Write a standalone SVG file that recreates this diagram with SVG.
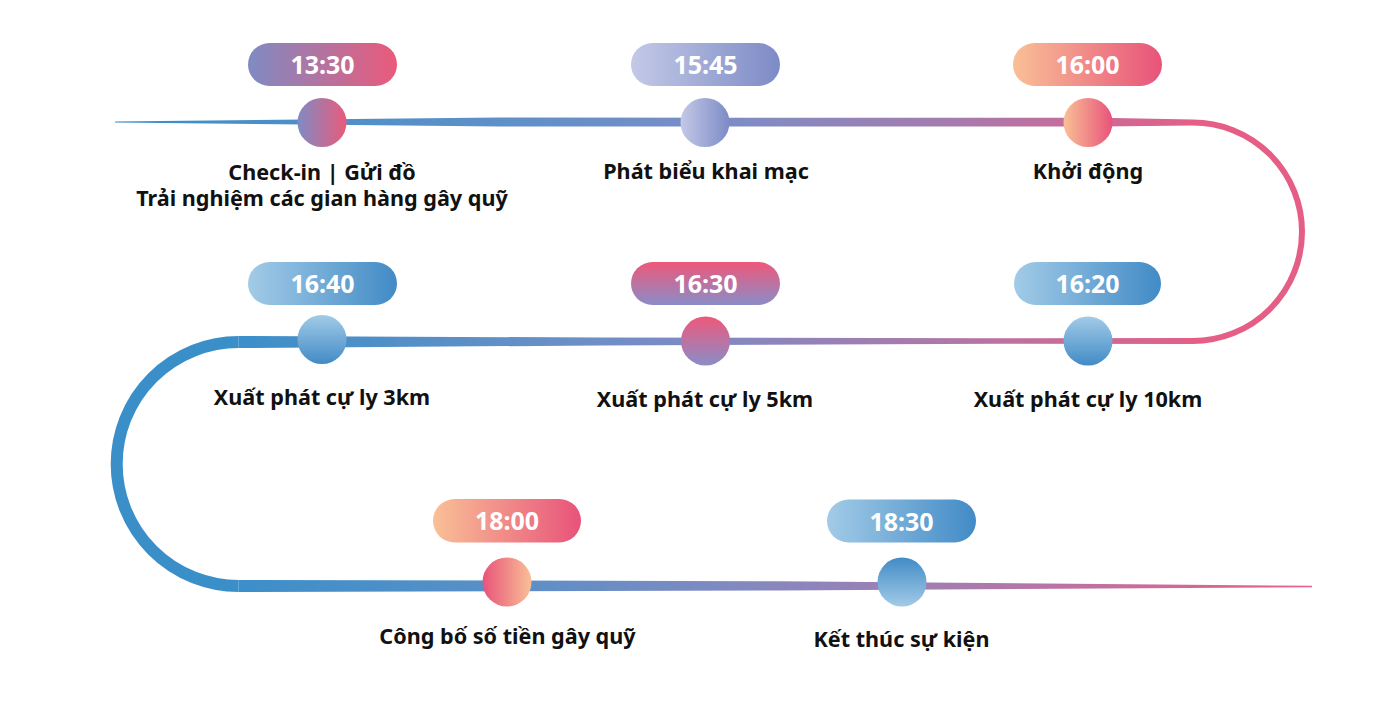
<svg xmlns="http://www.w3.org/2000/svg" width="1397" height="704" viewBox="0 0 1397 704">
<style>
.pt{font-family:"Noto Sans","Open Sans","DejaVu Sans",sans-serif;font-weight:700;font-size:25px;fill:#ffffff;text-anchor:middle}
.lb{font-family:"Noto Sans","Open Sans","DejaVu Sans",sans-serif;font-weight:700;font-size:21.6px;fill:#111111;text-anchor:middle}
</style>
<defs>
<linearGradient id="gPurplePink" x1="0" y1="0" x2="1" y2="0"><stop offset="0" stop-color="#7f8bc4"/><stop offset="1" stop-color="#ea5a7a"/></linearGradient>
<linearGradient id="gLav" x1="0" y1="0" x2="1" y2="0"><stop offset="0" stop-color="#c3c9e6"/><stop offset="1" stop-color="#7d8bc6"/></linearGradient>
<linearGradient id="gPeach" x1="0" y1="0" x2="1" y2="0"><stop offset="0" stop-color="#f9c096"/><stop offset="1" stop-color="#e8537a"/></linearGradient>
<linearGradient id="gPeachRev" x1="0" y1="0" x2="1" y2="0"><stop offset="0" stop-color="#e8537a"/><stop offset="1" stop-color="#f9c096"/></linearGradient>
<linearGradient id="gBlueH" x1="0" y1="0" x2="1" y2="0"><stop offset="0" stop-color="#a2cbe7"/><stop offset="1" stop-color="#428bc6"/></linearGradient>
<linearGradient id="gBlueV" x1="0" y1="0" x2="0" y2="1"><stop offset="0" stop-color="#a2cbe7"/><stop offset="1" stop-color="#428bc6"/></linearGradient>
<linearGradient id="gBlueVRev" x1="0" y1="0" x2="0" y2="1"><stop offset="0" stop-color="#428bc6"/><stop offset="1" stop-color="#a2cbe7"/></linearGradient>
<linearGradient id="gPinkV" x1="0" y1="0" x2="0" y2="1"><stop offset="0" stop-color="#ee587a"/><stop offset="1" stop-color="#8a8dc8"/></linearGradient>
<linearGradient id="gTop" gradientUnits="userSpaceOnUse" x1="115" y1="0" x2="1192" y2="0"><stop offset="0" stop-color="#3a8fcb"/><stop offset="0.4" stop-color="#6390c7"/><stop offset="0.58" stop-color="#7f8cc4"/><stop offset="0.78" stop-color="#a67bad"/><stop offset="1" stop-color="#e35f88"/></linearGradient>
<linearGradient id="gMid" gradientUnits="userSpaceOnUse" x1="1192" y1="0" x2="238" y2="0"><stop offset="0" stop-color="#e35f88"/><stop offset="0.3" stop-color="#a67bad"/><stop offset="0.5" stop-color="#8189c2"/><stop offset="0.65" stop-color="#6b8fc7"/><stop offset="1" stop-color="#3d8fc9"/></linearGradient>
<linearGradient id="gBot" gradientUnits="userSpaceOnUse" x1="238" y1="0" x2="1312" y2="0"><stop offset="0" stop-color="#3d8fc9"/><stop offset="0.25" stop-color="#5a8fc7"/><stop offset="0.45" stop-color="#7f8ac2"/><stop offset="0.65" stop-color="#a37db0"/><stop offset="1" stop-color="#ea5e88"/></linearGradient>
</defs>
<g id="connectors">
<path d="M115,121.4 L500,117.6 L1100,117.8 L1193,119.5 L1193,125.5 L1100,126.6 L500,126.6 L115,122.4 Z" fill="url(#gTop)"/>
<path d="M1192.75,122.5 A109.25,109.25 0 0 1 1192.75,341" fill="none" stroke="#e55e86" stroke-width="6"/>
<path d="M1193,338 L1000,338.2 L600,337.5 L238.7,336 L238.7,348 L600,345.5 L1000,343.8 L1193,344 Z" fill="url(#gMid)"/>
<path d="M238.7,342 A122,122 0 0 0 238.7,586" fill="none" stroke="#3b8fc9" stroke-width="12"/>
<path d="M238.7,580 L780,581.2 L1312,585.8 L1312,587.2 L780,590.5 L238.7,592 Z" fill="url(#gBot)"/>
</g>
<g id="n1330">
<rect x="248" y="43" width="149" height="43" rx="21.5" fill="url(#gPurplePink)"/>
<text class="pt" x="322.5" y="74">13:30</text>
<circle cx="322" cy="122.5" r="24.5" fill="url(#gPurplePink)"/>
<text class="lb" x="322" y="180">Check-in | Gửi đồ<tspan x="322" dy="26">Trải nghiệm các gian hàng gây quỹ</tspan></text>
</g>
<g id="n1545">
<rect x="631" y="43" width="149" height="43" rx="21.5" fill="url(#gLav)"/>
<text class="pt" x="705.5" y="74">15:45</text>
<circle cx="705" cy="122.5" r="24.5" fill="url(#gLav)"/>
<text class="lb" x="706" y="179">Phát biểu khai mạc</text>
</g>
<g id="n1600">
<rect x="1013" y="43" width="149" height="43" rx="21.5" fill="url(#gPeach)"/>
<text class="pt" x="1087.5" y="74">16:00</text>
<circle cx="1088" cy="122.5" r="24.5" fill="url(#gPeach)"/>
<text class="lb" x="1088" y="179">Khởi động</text>
</g>
<g id="n1620">
<rect x="1014" y="262" width="147" height="43" rx="21.5" fill="url(#gBlueH)"/>
<text class="pt" x="1087.5" y="292.5">16:20</text>
<circle cx="1088" cy="341" r="24.5" fill="url(#gBlueV)"/>
<text class="lb" x="1088" y="407">Xuất phát cự ly 10km</text>
</g>
<g id="n1630">
<rect x="631" y="262" width="149" height="43" rx="21.5" fill="url(#gPinkV)"/>
<text class="pt" x="705.5" y="292.5">16:30</text>
<circle cx="705.5" cy="341" r="24.5" fill="url(#gPinkV)"/>
<text class="lb" x="705" y="406.5">Xuất phát cự ly 5km</text>
</g>
<g id="n1640">
<rect x="248" y="262" width="149" height="43" rx="21.5" fill="url(#gBlueH)"/>
<text class="pt" x="322.5" y="292.5">16:40</text>
<circle cx="322" cy="339.5" r="24.5" fill="url(#gBlueV)"/>
<text class="lb" x="322" y="405">Xuất phát cự ly 3km</text>
</g>
<g id="n1800">
<rect x="433" y="499" width="148" height="43.5" rx="21.75" fill="url(#gPeach)"/>
<text class="pt" x="507" y="530">18:00</text>
<circle cx="507" cy="582" r="24.5" fill="url(#gPeachRev)"/>
<text class="lb" x="507.5" y="644">Công bố số tiền gây quỹ</text>
</g>
<g id="n1830">
<rect x="827" y="499.5" width="149" height="43" rx="21.5" fill="url(#gBlueH)"/>
<text class="pt" x="901.5" y="530.5">18:30</text>
<circle cx="902" cy="582" r="24.5" fill="url(#gBlueVRev)"/>
<text class="lb" x="901.5" y="646.5">Kết thúc sự kiện</text>
</g>
</svg>
